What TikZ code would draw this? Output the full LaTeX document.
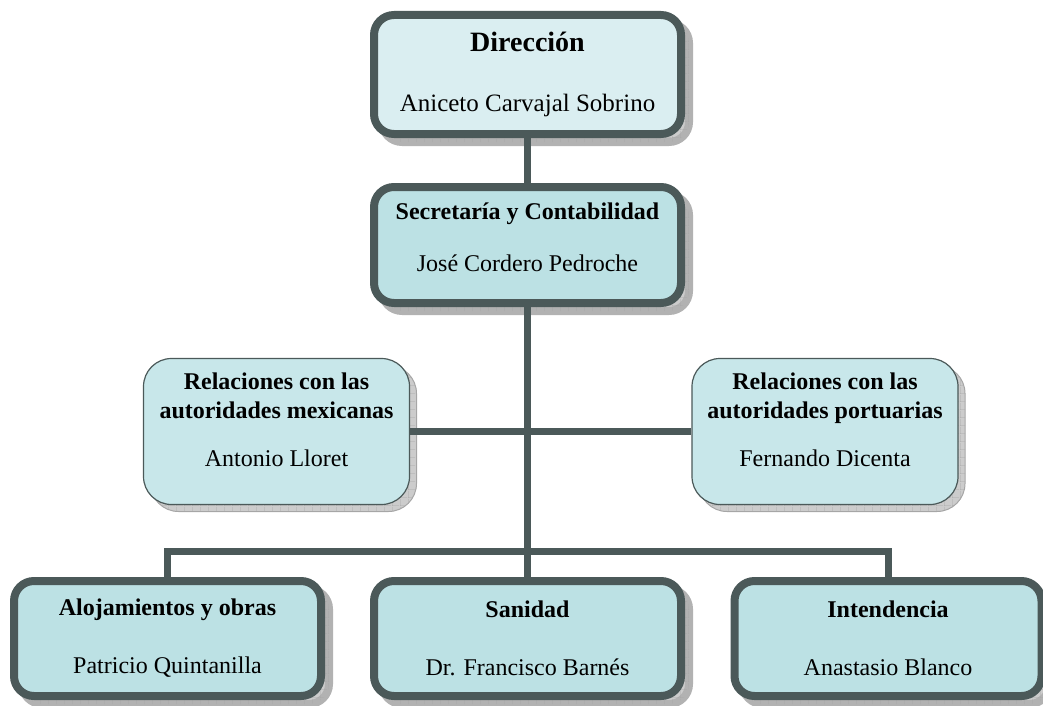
\documentclass[tikz,border=0pt]{standalone}
\usepackage{fontspec}
\setmainfont{Liberation Serif}
\usetikzlibrary{shadows,patterns.meta}

\definecolor{edge}{HTML}{4B5959}
\definecolor{toptint}{HTML}{DAEEF1}
\definecolor{boxtint}{HTML}{BCE1E4}
\definecolor{sidetint}{HTML}{C8E7EA}

% fine grid used inside the drop shadows
\tikzdeclarepattern{
  name=shadowgrid,
  type=uncolored,
  bounding box={(0,0) and (8pt,8pt)},
  tile size={(8pt,8pt)},
  code={\draw[line width=0.7pt] (0,0) -- (8pt,0) (0,0) -- (0,8pt);}
}

\tikzset{
  txt/.style={font=\fontsize{24}{29}\selectfont, align=center, text=black},
  unitbox/.style={txt, rectangle, rounded corners=20pt, draw=edge, line width=8pt,
    fill=boxtint, minimum width=307pt, inner sep=0pt,
    general shadow={shadow xshift=8pt, shadow yshift=-8pt, fill=black!20,
      draw=black!30, line width=8pt,
      postaction={pattern=shadowgrid, pattern color=black!35}}},
  sidebox/.style={txt, rectangle, rounded corners=28pt, draw=edge, line width=1.2pt,
    fill=sidetint, minimum width=266pt, minimum height=146pt, inner sep=0pt,
    general shadow={shadow xshift=7pt, shadow yshift=-7pt, fill=black!20,
      draw=black!35, line width=1pt,
      postaction={pattern=shadowgrid, pattern color=black!35}}},
  link/.style={draw=edge, line width=7pt},
}

\begin{document}
\begin{tikzpicture}[x=1pt, y=-1pt]
\useasboundingbox (0,0) rectangle (1043,706);

% head of the organisation
\node[unitbox, fill=toptint, minimum height=119pt] (dir) at (527.5,74.5)
  {{\fontsize{28}{32}\selectfont\bfseries Dirección}\\[31pt]{\fontsize{25}{29}\selectfont Aniceto Carvajal Sobrino}};

\node[unitbox, minimum height=116pt] (sec) at (527.5,245)
  {\textbf{Secretaría y Contabilidad}\\[23pt]José Cordero Pedroche\\[-13pt]\mbox{}};

% liaison offices
\node[sidebox] (mex) at (276.5,431.5)
  {\textbf{Relaciones con las}\\\textbf{autoridades mexicanas}\\[19pt]Antonio Lloret\\[-5pt]\mbox{}};
\node[sidebox] (port) at (825,431.5)
  {\textbf{Relaciones con las}\\\textbf{autoridades portuarias}\\[19pt]Fernando Dicenta\\[-5pt]\mbox{}};

% operating units
\node[unitbox, minimum height=115pt] (aloj) at (167.5,638.5)
  {\textbf{Alojamientos y obras}\\[29pt]Patricio Quintanilla};
\node[unitbox, minimum height=115pt] (san) at (527.5,638.5)
  {\textbf{Sanidad}\\[29pt]Dr. Francisco Barnés};
\node[unitbox, minimum height=115pt] (int) at (888,638.5)
  {\textbf{Intendencia}\\[29pt]Anastasio Blanco};

% connectors
\coordinate (bus) at (527.5,551);
\draw[link] (dir.south) -- (sec.north);
\draw[link] (sec.south) -- (bus);
\draw[link] (mex.east) -- (port.west);
\draw[link] (bus) -- (san.north);
\draw[link] (aloj.north) |- (bus) -| (int.north);
\end{tikzpicture}
\end{document}
